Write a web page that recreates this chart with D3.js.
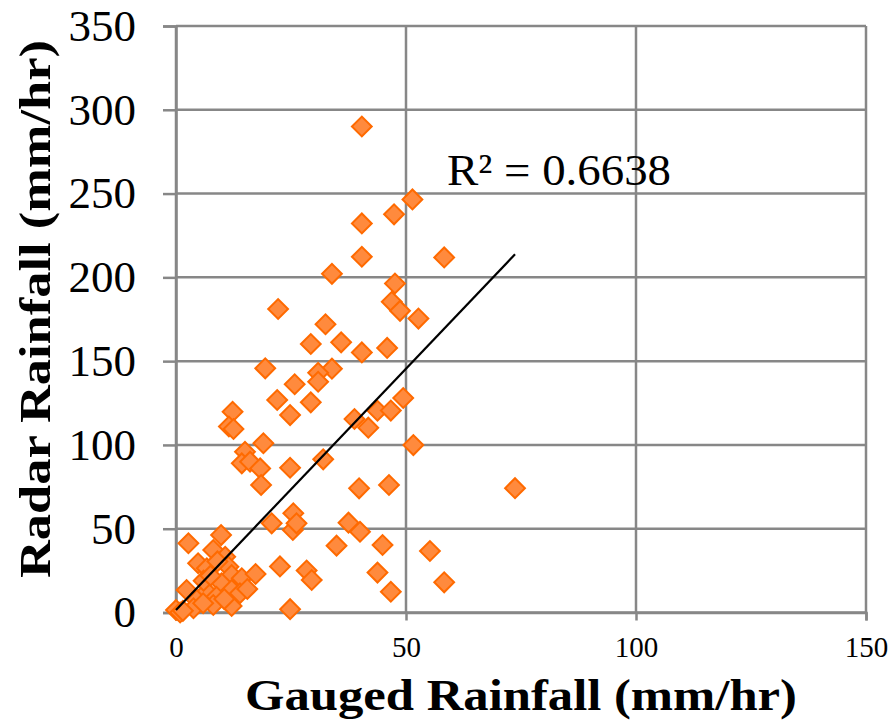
<!DOCTYPE html>
<html>
<head>
<meta charset="utf-8">
<script src="https://cdn.jsdelivr.net/npm/d3@7"></script>
<style>
  html, body { margin: 0; padding: 0; background: #fff; }
  svg { display: block; }
</style>
</head>
<body>
<svg id="chart" width="889" height="720"></svg>
<script>
// ---- data ----
const gaugedRainfall = [
  40.4, 51.4, 47.4, 40.4, 40.4, 58.3, 33.9, 47.6, 46.9, 48.7,
  52.7, 22.2, 32.5, 29.3, 35.9, 40.4, 45.9, 19.4, 33.9, 30.9,
  30.9, 25.8, 22.0, 29.3, 49.4, 43.8, 46.7, 24.8, 12.3, 38.8,
  41.8, 11.5, 12.5, 51.6, 19.0, 15.0, 14.3, 16.1, 18.3, 24.8,
  32.0, 18.5, 39.8, 46.3, 73.7, 20.8, 25.5, 25.4, 26.2, 37.5,
  40.0, 34.9, 44.9, 55.2, 22.6, 28.4, 29.5, 43.8, 46.7, 58.3,
  24.8, 9.8, 2.7, 8.1, 10.7, 4.8, 6.7, 11.4, 12.1, 14.3,
  17.3, 9.9, 2.3, 6.7, 12.1, 13.9, 4.5, 8.8, 8.1, 12.1,
  0.0, 0.9, 3.8, 5.9, 1.5, 9.0, 6.0, 10.5, 7.5, 15.5
];
const radarRainfall = [
  290.0, 246.5, 237.6, 232.2, 212.3, 211.9, 202.1, 196.3, 185.4, 180.0,
  175.4, 181.1, 172.0, 160.2, 161.2, 155.2, 157.9, 145.7, 145.5, 143.1,
  137.7, 136.2, 126.8, 125.4, 128.0, 120.4, 120.5, 117.8, 119.8, 115.5,
  110.3, 111.0, 109.5, 99.9, 101.0, 95.9, 89.0, 90.0, 86.0, 86.4,
  91.4, 76.1, 74.1, 76.1, 74.2, 53.2, 59.2, 49.2, 53.2, 53.6,
  48.2, 39.9, 40.3, 36.7, 27.5, 25.0, 19.4, 23.8, 12.4, 18.0,
  2.0, 46.2, 41.3, 37.3, 33.3, 29.4, 26.4, 27.3, 22.4, 20.4,
  23.0, 17.4, 13.4, 12.4, 13.4, 11.5, 7.5, 9.4, 4.5, 3.9,
  1.5, 0.0, 2.5, 5.5, 1.0, 30.5, 19.0, 8.0, 22.0, 14.0
];
const xTickValues = [0, 50, 100, 150];
const yTickValues = [0, 50, 100, 150, 200, 250, 300, 350];
const trendSlope = 2.88;
const trendIntercept = 1.5;
const rSquaredLabel = "R² = 0.6638";
const xTitle = "Gauged Rainfall (mm/hr)";
const yTitle = "Radar Rainfall (mm/hr)";

// ---- drawing ----
const svg = d3.select("#chart");
svg.append("rect").attr("width", 889).attr("height", 720).attr("fill", "#fff");

const x = d3.scaleLinear().domain([0, 150]).range([176, 866]);
const y = d3.scaleLinear().domain([0, 350]).range([612.5, 26]);

const gridColor = "#878787";
const serif = "'Liberation Serif', 'Times New Roman', serif";

// gridlines
const grid = svg.append("g");
grid.selectAll("line.h").data(yTickValues).join("line")
  .attr("x1", x(0)).attr("x2", x(150))
  .attr("y1", d => y(d)).attr("y2", d => y(d))
  .attr("stroke", gridColor).attr("stroke-width", 2.5);
grid.selectAll("line.v").data(xTickValues).join("line")
  .attr("x1", d => x(d)).attr("x2", d => x(d))
  .attr("y1", y(0)).attr("y2", y(350))
  .attr("stroke", gridColor).attr("stroke-width", 2.5);

// axes
const yAxis = svg.append("g")
  .attr("transform", `translate(${x(0)},0)`)
  .call(d3.axisLeft(y).tickValues(yTickValues).tickSize(13).tickPadding(27).tickFormat(d3.format("d")));
const xAxis = svg.append("g")
  .attr("transform", `translate(0,${y(0)})`)
  .call(d3.axisBottom(x).tickValues(xTickValues).tickSize(8).tickPadding(16).tickFormat(d3.format("d")));

[yAxis, xAxis].forEach(g => {
  g.select(".domain").attr("stroke", gridColor).attr("stroke-width", 2.5);
  g.selectAll(".tick line").attr("stroke", gridColor).attr("stroke-width", 2.5);
  g.selectAll(".tick text").attr("fill", "#000").attr("font-family", serif);
});
yAxis.selectAll(".tick text").attr("font-size", 45);
xAxis.selectAll(".tick text").attr("font-size", 29);

// markers
const pts = gaugedRainfall.map((g, i) => ({ g, r: radarRainfall[i] }));
const diamond = d3.symbol().type(d3.symbolSquare).size(196);
svg.append("g").selectAll("path").data(pts).join("path")
  .attr("d", diamond)
  .attr("transform", d => `translate(${x(d.g)},${y(d.r)}) rotate(45)`)
  .attr("fill", "#ff8a3d")
  .attr("stroke", "#ff6a00")
  .attr("stroke-width", 2);

// linear trend line across the data's x range
const xMin = d3.min(gaugedRainfall), xMax = d3.max(gaugedRainfall);
svg.append("line")
  .attr("x1", x(xMin)).attr("y1", y(trendSlope * xMin + trendIntercept))
  .attr("x2", x(xMax)).attr("y2", y(trendSlope * xMax + trendIntercept))
  .attr("stroke", "#000").attr("stroke-width", 2.2);

// R² label
svg.append("text")
  .attr("x", 447).attr("y", 185)
  .attr("font-family", serif).attr("font-size", 45)
  .attr("textLength", 224).attr("lengthAdjust", "spacingAndGlyphs")
  .text(rSquaredLabel);

// axis titles
svg.append("text")
  .attr("x", 521).attr("y", 710)
  .attr("text-anchor", "middle")
  .attr("font-family", serif).attr("font-weight", "bold").attr("font-size", 44)
  .attr("textLength", 552).attr("lengthAdjust", "spacingAndGlyphs")
  .text(xTitle);

svg.append("text")
  .attr("transform", "translate(50,309) rotate(-90)")
  .attr("text-anchor", "middle")
  .attr("font-family", serif).attr("font-weight", "bold").attr("font-size", 44)
  .attr("textLength", 538).attr("lengthAdjust", "spacingAndGlyphs")
  .text(yTitle);
</script>
</body>
</html>
